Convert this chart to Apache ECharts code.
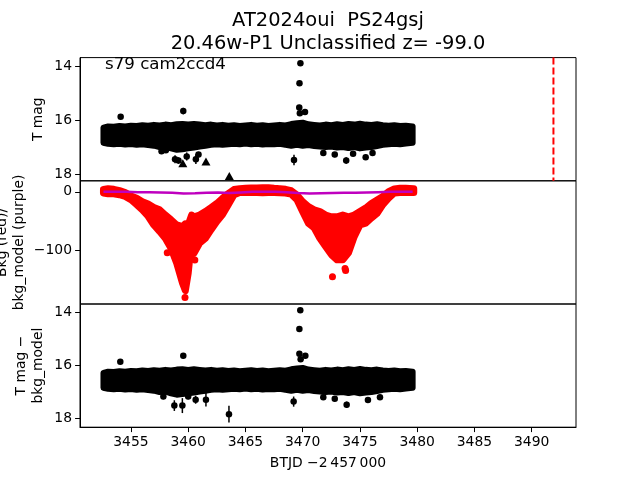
<!DOCTYPE html>
<html><head><meta charset="utf-8">
<script src="https://cdn.jsdelivr.net/npm/echarts@6/dist/echarts.min.js"></script>
<style>html,body{margin:0;padding:0;background:#fff}#c{width:640px;height:480px}</style>
</head><body><div id="c"></div>
<script>
// ---------- data ----------
const titleLine1 = 'AT2024oui  PS24gsj';
const titleLine2 = '20.46w-P1 Unclassified z= -99.0';
const tagText = 's79 cam2ccd4';
const xName = 'BTJD \u22122\u2009457\u2009000';

const xMin = 3450.55, xMax = 3493.87;
const xTicks = [3455, 3460, 3465, 3470, 3475, 3480, 3485, 3490];
const magTicks = [14, 16, 18];
const bkgTicks = [0, -100];
const dashT = 3491.9;

// black light-curve band (T mag): time grid, bright edge, faint edge (point centres)
const bandT = [3452.6,3453,3453.5,3454,3454.5,3455,3455.5,3456,3456.5,3457,3457.5,3458,3458.5,3459,3459.5,3460,3460.5,3461,3461.5,3462,3462.5,3463,3463.5,3464,3464.5,3465,3465.5,3466,3466.5,3467,3467.5,3468,3468.5,3469,3469.5,3470,3470.5,3471,3471.5,3472,3472.5,3473,3473.5,3474,3474.5,3475,3475.5,3476,3476.5,3477,3477.5,3478,3478.5,3479,3479.6];
const bandTop = [16.28,16.24,16.25,16.22,16.24,16.21,16.22,16.19,16.21,16.18,16.2,16.17,16.19,16.16,16.15,16.17,16.15,16.17,16.19,16.17,16.2,16.18,16.21,16.19,16.22,16.2,16.18,16.21,16.19,16.22,16.2,16.18,16.2,16.15,16.12,16.1,16.16,16.18,16.2,16.17,16.19,16.16,16.18,16.15,16.17,16.14,16.17,16.18,16.16,16.19,16.21,16.19,16.22,16.21,16.24];
const bandBot = [16.84,16.88,16.9,16.88,16.91,16.89,16.92,16.9,16.93,16.95,17.0,16.98,17.05,17.1,17.08,17.05,17.02,16.98,16.95,16.92,16.9,16.92,16.9,16.88,16.9,16.87,16.9,16.88,16.91,16.89,16.9,16.88,16.92,16.95,16.92,16.95,16.93,16.96,16.98,17.0,16.98,17.02,17.0,17.04,17.0,17.05,17.02,17.0,16.96,16.92,16.9,16.88,16.9,16.87,16.84];

// panel 1 individual points [t, mag, err]
const p1Points = [[3454.1,15.88,0.05],[3459.57,15.67,0.12],[3469.7,15.54,0.1],[3469.75,15.75,0.1],[3470.2,15.7,0.1],[3469.8,13.9,0.05],[3469.72,14.64,0.05],
  [3457.67,17.16,0.1],[3458.05,17.12,0.1],[3458.85,17.45,0.15],[3459.15,17.5,0.12],[3459.87,17.35,0.15],[3460.67,17.45,0.18],[3460.9,17.28,0.1],[3469.24,17.48,0.19],[3471.8,17.22,0.1],[3472.8,17.28,0.1],[3473.8,17.5,0.12],[3474.4,17.25,0.08],[3475.5,17.38,0.1],[3476.1,17.22,0.08]];
// panel 1 upper limits [t, mag]
const p1Limits = [[3459.53,17.6],[3461.55,17.54],[3463.59,18.07]];

// background (red) band: time grid, upper edge, lower edge (point centres)
const bkgT = [3452.6,3453,3453.5,3454,3454.5,3455,3455.5,3456,3456.5,3457,3457.5,3458,3458.5,3459,3459.5,3459.75,3460,3460.3,3460.5,3461,3461.5,3462,3462.5,3463,3463.5,3464,3464.5,3465,3465.5,3466,3466.5,3467,3467.5,3468,3468.5,3469,3469.5,3470,3470.5,3471,3471.5,3472,3472.5,3473,3473.5,3474,3474.5,3475,3475.5,3476,3476.5,3477,3477.5,3478,3478.5,3479,3479.7];
const bkgTop = [4.3,5.5,4.3,2,-1.4,-7,-11,-17,-21,-27,-31,-40,-48,-57,-60,-55,-57,-40,-43,-40,-34,-27,-20,-11,-3,4,5.5,6,6.6,6.5,7,7,6,5.5,4.3,2,-5.4,-17,-25.5,-31,-34,-40,-43,-43,-40,-43,-40,-34,-28,-20,-14,-8,0.3,5,6,6,5.5];
const bkgBot = [-2,-3.2,-3.2,-5,-7.8,-13.5,-22,-31,-42,-57,-68,-80,-97,-123,-157,-170,-140,-82,-106,-88,-80,-65,-51,-39,-22,-5,-1,-1,-1,-1,-1.5,-1,-1,-1.5,-2,-4,-13.5,-34,-54,-62,-80,-94,-108,-117,-117,-105,-77,-57,-54,-45,-37,-22,-11,-2,-1,-1,-1];
const bkgLoose = [[3458.17,-104.6],[3459.72,-181.6],[3460.58,-117.2],[3472.6,-146],[3473.7,-132],[3473.75,-135.5]];

// background model (purple)
const modelT = [3452.6,3453.6,3454.6,3455.6,3456.6,3457.6,3458.6,3459.6,3460.6,3461.6,3462.6,3463.6,3464.6,3465.6,3466.6,3467.6,3468.6,3469.6,3470.6,3471.6,3472.6,3473.6,3474.6,3475.6,3476.6,3477.6,3478.6,3479.6];
const modelV = [0,0,0,-0.5,-0.5,-1,-1.5,-3,-2.5,-1.5,-1,-2,-1,0,0,0,-0.5,-2,-3,-2.5,-2,-1.5,-1.5,-1,-0.5,0,0,0];

// panel 3 individual points [t, mag, err]
const p3Points = [[3454.07,15.87,0.05],[3459.57,15.64,0.1],[3469.79,13.93,0.05],[3469.71,14.64,0.05],[3469.71,15.57,0.1],[3470.23,15.64,0.1],[3469.82,15.77,0.1],
  [3457.83,17.17,0.1],[3458.79,17.51,0.2],[3459.49,17.51,0.28],[3460.0,17.17,0.1],[3460.65,17.29,0.15],[3461.55,17.29,0.25],[3463.56,17.83,0.31],[3469.21,17.36,0.19],[3471.8,17.2,0.1],[3472.8,17.25,0.1],[3473.84,17.48,0.12],[3475.7,17.3,0.1],[3476.75,17.2,0.08]];

// ---------- chart ----------
const FONT = 'DejaVu Sans';
const L = 80, W = 496, H = 123.2, T0 = 57.6;
const minus = v => String(v).replace('-', '\u2212');

function bandSeries(xi, tArr, hi, lo, color, lw) {
  return {
    type: 'custom', xAxisIndex: xi, yAxisIndex: xi, z: 2,
    data: tArr.map((t, i) => [t, hi[i], lo[i]]),
    encode: { x: 0, y: [1, 2] },
    renderItem: function (params, api) {
      if (params.dataIndex !== 0) return null;
      const pts = [];
      for (let i = 0; i < tArr.length; i++) pts.push(api.coord([tArr[i], hi[i]]));
      for (let i = tArr.length - 1; i >= 0; i--) pts.push(api.coord([tArr[i], lo[i]]));
      return { type: 'polygon', shape: { points: pts },
        style: { fill: color, stroke: color, lineWidth: lw, lineJoin: 'round' } };
    }
  };
}
function errSeries(xi, pts) {
  return {
    type: 'custom', xAxisIndex: xi, yAxisIndex: xi, z: 3,
    data: pts, encode: { x: 0, y: 1 },
    renderItem: function (params, api) {
      const t = api.value(0), m = api.value(1), e = api.value(2);
      const a = api.coord([t, m - e]), b = api.coord([t, m + e]);
      return { type: 'line', shape: { x1: a[0], y1: a[1], x2: b[0], y2: b[1] },
        style: { stroke: '#000', lineWidth: 1.5 } };
    }
  };
}
function dotSeries(xi, pts, color, size, symbol) {
  return {
    type: 'scatter', xAxisIndex: xi, yAxisIndex: xi, z: 4,
    symbol: symbol || 'circle', symbolSize: size,
    itemStyle: { color: color, opacity: 1 },
    data: pts.map(p => [p[0], p[1]])
  };
}

function xAxis(i) {
  const last = i === 2;
  return {
    type: 'value', gridIndex: i, min: xMin, max: xMax,
    splitLine: { show: false },
    axisLine: { show: last, lineStyle: { color: '#000', width: 1 } },
    axisTick: { show: last, inside: false, length: 4.9, lineStyle: { color: '#000', width: 1 }, customValues: xTicks },
    axisLabel: { show: last, customValues: xTicks, color: '#000', fontSize: 13.9, fontFamily: FONT, margin: 8,
      formatter: v => String(v) }
  };
}
function yAxis(i, min, max, ticks, inverse) {
  return {
    type: 'value', gridIndex: i, min: min, max: max, inverse: inverse,
    splitLine: { show: false },
    axisLine: { show: true, lineStyle: { color: '#000', width: 1 } },
    axisTick: { show: true, inside: false, length: 4.9, lineStyle: { color: '#000', width: 1 }, customValues: ticks },
    axisLabel: { show: true, customValues: ticks, color: '#000', fontSize: 13.9, fontFamily: FONT, margin: 8, formatter: minus,
      showMinLabel: true, showMaxLabel: true }
  };
}
function grid(i) {
  return { left: L, top: T0 + i * H, width: W, height: H, show: true, borderColor: '#000', borderWidth: 1,
    backgroundColor: 'transparent', containLabel: false, outerBoundsMode: 'none' };
}
function txt(x, y, text, size, rot, align) {
  return { type: 'text', x: x, y: y, rotation: rot || 0, z: 100,
    style: { text: text, fontSize: size, fontFamily: FONT, fill: '#000',
      align: align || 'center', textAlign: align || 'center', verticalAlign: 'middle', textVerticalAlign: 'middle', lineHeight: size * 1.2 } };
}

const chart = echarts.init(document.getElementById('c'), null, { renderer: 'canvas' });
chart.setOption({
  animation: false,
  backgroundColor: '#fff',
  grid: [grid(0), grid(1), grid(2)],
  xAxis: [xAxis(0), xAxis(1), xAxis(2)],
  yAxis: [yAxis(0, 13.69, 18.25, magTicks, true), yAxis(1, -193, 19, bkgTicks, false), yAxis(2, 13.7, 18.32, magTicks, true)],
  series: [
    bandSeries(0, bandT, bandTop, bandBot, '#000', 6),
    errSeries(0, p1Points),
    dotSeries(0, p1Points, '#000', 6.5),
    dotSeries(0, p1Limits, '#000', [9, 8], 'triangle'),
    { type: 'line', xAxisIndex: 0, yAxisIndex: 0, z: 5, symbol: 'none', silent: true,
      lineStyle: { color: '#ff0000', width: 2, type: [7, 3] },
      data: [[dashT, 13.69], [dashT, 18.25]] },
    bandSeries(1, bkgT, bkgTop, bkgBot, '#ff0000', 7),
    dotSeries(1, bkgLoose, '#ff0000', 7),
    { type: 'line', xAxisIndex: 1, yAxisIndex: 1, z: 5, symbol: 'none', smooth: false,
      lineStyle: { color: '#bf00bf', width: 2.5 }, data: modelT.map((t, i) => [t, modelV[i]]) },
    bandSeries(2, bandT, bandTop, bandBot, '#000', 6),
    errSeries(2, p3Points),
    dotSeries(2, p3Points, '#000', 6.5)
  ],
  graphic: [
    txt(328, 21, titleLine1, 19.44),
    txt(328, 43.5, titleLine2, 19.44),
    txt(105, 65, tagText, 16.67, 0, 'left'),
    txt(328, 463.8, xName, 13.9),
    txt(38, 119.2, 'T mag', 13.9, Math.PI / 2),
    txt(11, 242.4, 'Bkg (red)/\nbkg_model (purple)', 13.9, Math.PI / 2),
    txt(30, 365.6, 'T mag \u2212\nbkg_model', 13.9, Math.PI / 2)
  ]
});
</script></body></html>
